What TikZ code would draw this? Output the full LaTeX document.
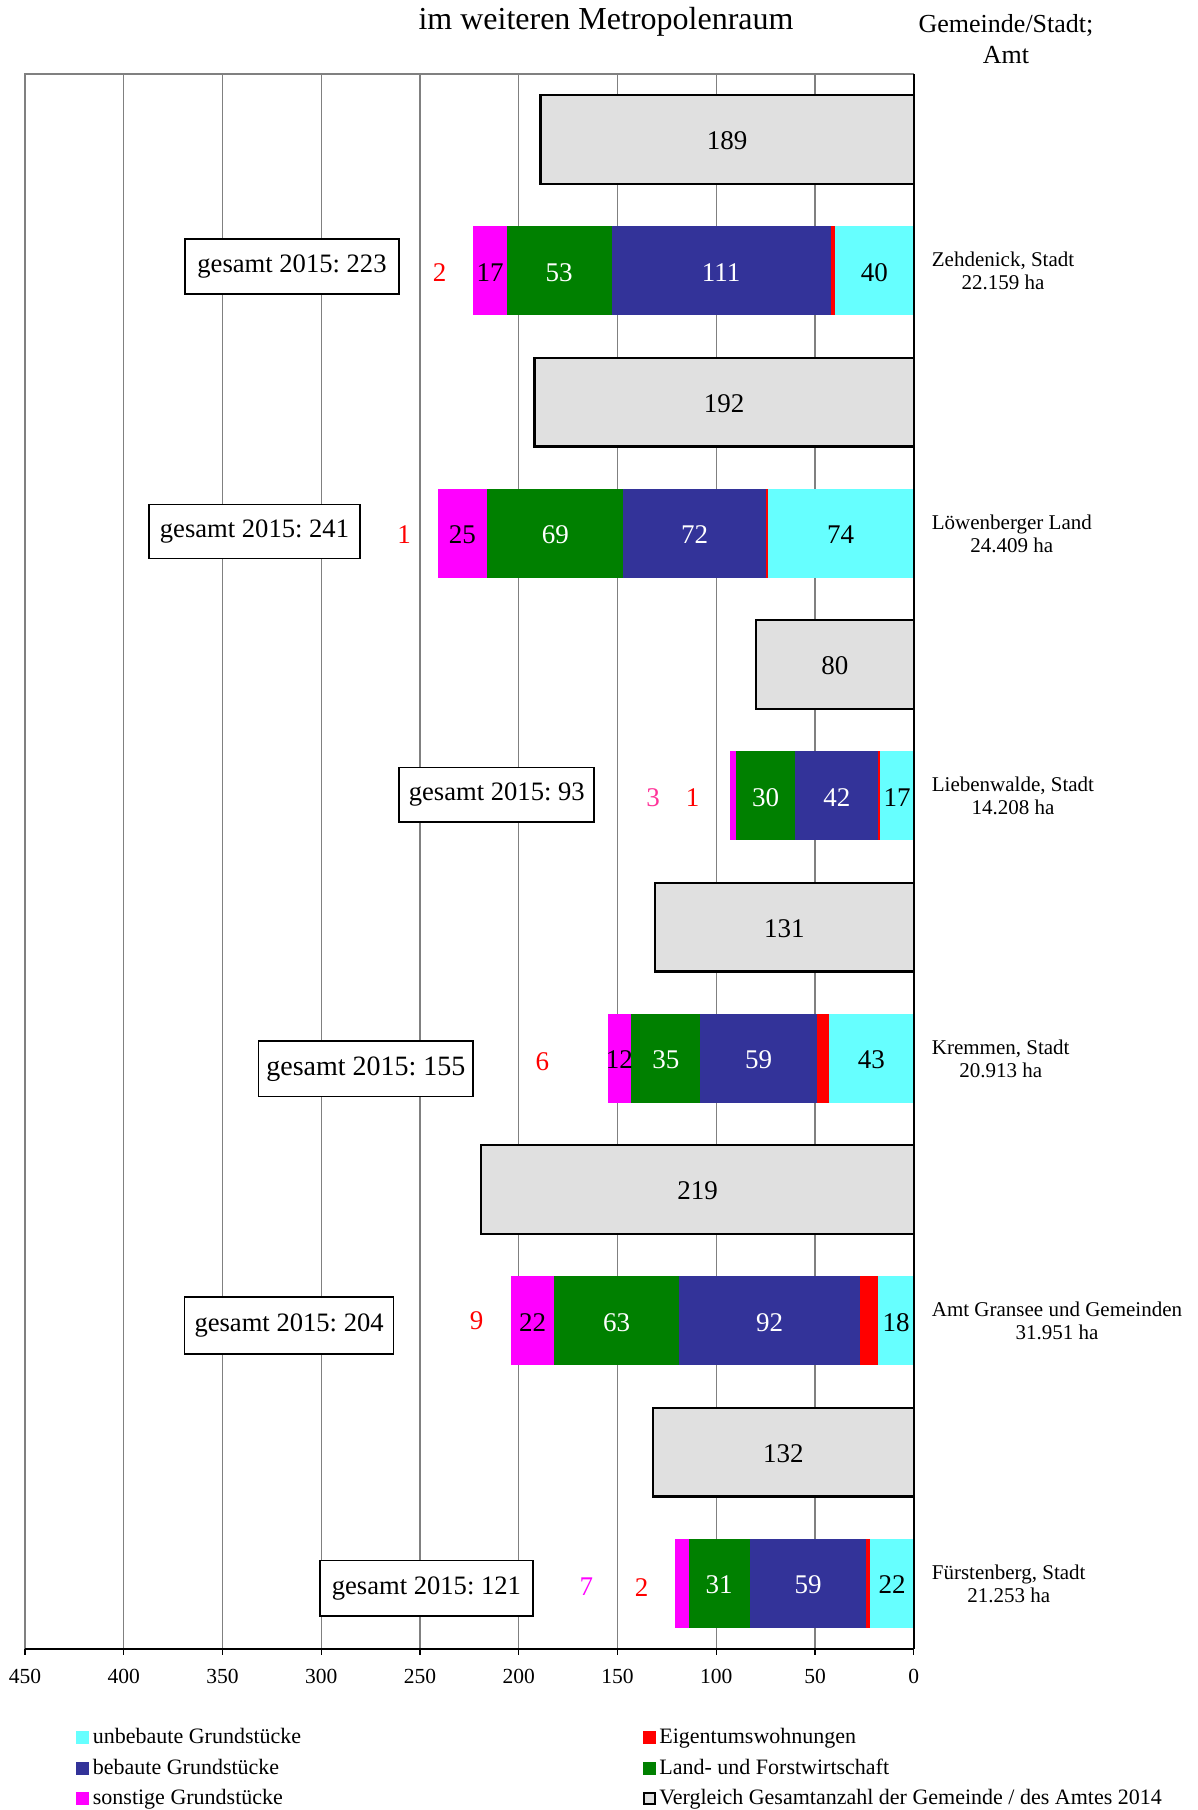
\documentclass[tikz,border=0pt]{standalone}
\usepackage{fontspec}
\setmainfont{Liberation Serif}
\frenchspacing
\definecolor{cCyan}{HTML}{66FFFF}
\definecolor{cRed}{HTML}{FF0000}
\definecolor{cBlue}{HTML}{333399}
\definecolor{cGreen}{HTML}{008000}
\definecolor{cMag}{HTML}{FF00FF}
\definecolor{cPink}{HTML}{FF3399}
\definecolor{cBox}{HTML}{E0E0E0}
\definecolor{cGrid}{HTML}{808080}
\newcommand\stackbar[6]{%
  \pgfmathsetmacro\yc{cy(#1)}%
  \pgfmathsetmacro\sa{#2}%
  \pgfmathsetmacro\sb{\sa+#3}%
  \pgfmathsetmacro\sc{\sb+#4}%
  \pgfmathsetmacro\sd{\sc+#5}%
  \pgfmathsetmacro\se{\sd+#6}%
  \fill[cCyan]  ({xv(0)},{\yc-44.45})   rectangle ({xv(\sa)},{\yc+44.45});
  \fill[cRed]   ({xv(\sa)},{\yc-44.45}) rectangle ({xv(\sb)},{\yc+44.45});
  \fill[cBlue]  ({xv(\sb)},{\yc-44.45}) rectangle ({xv(\sc)},{\yc+44.45});
  \fill[cGreen] ({xv(\sc)},{\yc-44.45}) rectangle ({xv(\sd)},{\yc+44.45});
  \fill[cMag]   ({xv(\sd)},{\yc-44.45}) rectangle ({xv(\se)},{\yc+44.45});
}
\begin{document}
\begin{tikzpicture}[x=0.5pt,y=-0.5pt,
  declare function={xv(\v)=913.8-1.9753*\v; cy(\k)=74+131.25*(\k+0.5);},
  lab/.style={font=\fontsize{13.5}{16}\selectfont, inner sep=0},
  wlab/.style={lab, text=white},
  oldbox/.style={draw=black, line width=1.15pt, fill=cBox},
  gbox/.style={draw=black, line width=0.85pt, fill=white, inner sep=0,
               font=\fontsize{13.3}{16}\selectfont},
  place/.style={anchor=west, align=center, inner sep=0,
                font=\fontsize{10.5}{11.5}\selectfont},
  tick/.style={font=\fontsize{10.75}{12}\selectfont, inner sep=0},
  leg/.style={anchor=base west, inner sep=0, font=\fontsize{11}{13}\selectfont},
  legsq/.style={minimum width=6.5pt, minimum height=6.5pt, inner sep=0}
]
\useasboundingbox (0,0) rectangle (1198,1810);

% titles
\node[font=\fontsize{16}{19}\selectfont, inner sep=0] (title) at (606,22) {im weiteren Metropolenraum};
\node[font=\fontsize{13}{15.5}\selectfont, align=center, inner sep=0] (hdr) at (1006,39) {Gemeinde/Stadt;\\Amt};

% grid
\foreach \v in {50,100,...,400}
  \draw[cGrid, line width=0.6pt] ({xv(\v)},74) -- ({xv(\v)},1649);
\draw[cGrid, line width=1.1pt] ({xv(0)},74) -- ({xv(450)},74) -- ({xv(450)},1649);

% 2014 boxes
\foreach \k/\v in {0/189,2/192,4/80,6/131,8/219,10/132}{
  \draw[oldbox] ({xv(0)},{cy(\k)-44.45}) rectangle ({xv(\v)},{cy(\k)+44.45});
  \node[lab] (old\k) at ({xv(\v/2)},{cy(\k)+1.5}) {\v};
}

% 2015 stacked bars: cyan, red, blue, green, magenta
\stackbar{1}{40}{2}{111}{53}{17}
\stackbar{3}{74}{1}{72}{69}{25}
\stackbar{5}{17}{1}{42}{30}{3}
\stackbar{7}{43}{6}{59}{35}{12}
\stackbar{9}{18}{9}{92}{63}{22}
\stackbar{11}{22}{2}{59}{31}{7}

% labels inside bars
\node[lab]  (zc) at ({xv(20)},{cy(1)+1.5}) {40};
\node[wlab] (zb) at ({xv(97.5)},{cy(1)+1.5}) {111};
\node[wlab] (zg) at ({xv(179.5)},{cy(1)+1.5}) {53};
\node[lab]  (zm) at ({xv(214.5)},{cy(1)+1.5}) {17};
\node[lab, text=cRed] (zr) at (439.7,{cy(1)+1.5}) {2};

\node[lab]  (lc) at ({xv(37)},{cy(3)+1.5}) {74};
\node[wlab] (lb) at ({xv(111)},{cy(3)+1.5}) {72};
\node[wlab] (lg) at ({xv(181.5)},{cy(3)+1.5}) {69};
\node[lab]  (lm) at ({xv(228.5)},{cy(3)+1.5}) {25};
\node[lab, text=cRed] (lr) at (404,{cy(3)+1.5}) {1};

\node[lab]  (bc) at ({xv(8.5)},{cy(5)+1.5}) {17};
\node[wlab] (bb) at ({xv(39)},{cy(5)+1.5}) {42};
\node[wlab] (bg) at ({xv(75)},{cy(5)+1.5}) {30};
\node[lab, text=cPink] (bm) at (653.2,{cy(5)+1.5}) {3};
\node[lab, text=cRed] (br) at (692.5,{cy(5)+1.5}) {1};

\node[lab]  (kc) at ({xv(21.5)},{cy(7)+1.5}) {43};
\node[wlab] (kb) at ({xv(78.5)},{cy(7)+1.5}) {59};
\node[wlab] (kg) at ({xv(125.5)},{cy(7)+1.5}) {35};
\node[lab]  (km) at ({xv(149)},{cy(7)+1.5}) {12};
\node[lab, text=cRed] (kr) at (542.4,{cy(7)+3.5}) {6};

\node[lab]  (gc) at ({xv(9)},{cy(9)+1.5}) {18};
\node[wlab] (gb) at ({xv(73)},{cy(9)+1.5}) {92};
\node[wlab] (gg) at ({xv(150.5)},{cy(9)+1.5}) {63};
\node[lab]  (gm) at ({xv(193)},{cy(9)+1.5}) {22};
\node[lab, text=cRed] (gr) at (476.6,{cy(9)}) {9};

\node[lab]  (fc) at ({xv(11)},{cy(11)+1.5}) {22};
\node[wlab] (fb) at ({xv(53.5)},{cy(11)+1.5}) {59};
\node[wlab] (fg) at ({xv(98.5)},{cy(11)+1.5}) {31};
\node[lab, text=cMag] (fm) at (586.3,{cy(11)+3}) {7};
\node[lab, text=cRed] (fr) at (641.7,{cy(11)+4}) {2};

% gesamt boxes
\node[gbox, minimum width=107.3pt, minimum height=27.7pt] (zt) at (292,266.6) {gesamt 2015: 223};
\node[gbox, minimum width=105.5pt, minimum height=27.1pt] (lt) at (254.5,531.5) {gesamt 2015: 241};
\node[gbox, minimum width=97.5pt, minimum height=27.1pt] (bt) at (496.8,794.6) {gesamt 2015: 93};
\node[gbox, minimum width=107.3pt, minimum height=27.7pt, font=\fontsize{14}{16}\selectfont] (kt) at (365.9,1068.7) {gesamt 2015: 155};
\node[gbox, minimum width=104.5pt, minimum height=28.2pt] (gt) at (289.1,1325.5) {gesamt 2015: 204};
\node[gbox, minimum width=106.7pt, minimum height=27.7pt] (ft) at (426.4,1588.1) {gesamt 2015: 121};

% place names
\node[place] (pz) at (931.5,{cy(1)}) {Zehdenick, Stadt\\22.159 ha};
\node[place] (pl) at (931.5,{cy(3)}) {Löwenberger Land\\24.409 ha};
\node[place] (pb) at (931.5,{cy(5)}) {Liebenwalde, Stadt\\14.208 ha};
\node[place] (pk) at (931.5,{cy(7)}) {Kremmen, Stadt\\20.913 ha};
\node[place] (pg) at (931.5,{cy(9)}) {Amt Gransee und Gemeinden\\31.951 ha};
\node[place] (pf) at (931.5,{cy(11)}) {Fürstenberg, Stadt\\21.253 ha};

% axes
\draw[black, line width=1pt] ({xv(0)},74) -- ({xv(0)},1649);
\draw[black, line width=1pt] ({xv(450)},1649) -- ({xv(0)},1649);
\foreach \v in {0,50,...,450}{
  \draw[black, line width=0.6pt] ({xv(\v)},1649) -- ({xv(\v)},1655);
  \node[tick] (t\v) at ({xv(\v)},1676) {\v};
}

% legend
\node[legsq, fill=cCyan] (s1) at (82.5,1737.5) {};
\node[leg] (l1) at (92.5,1743.5) {unbebaute Grundstücke};
\node[legsq, fill=cBlue] (s2) at (82.5,1768) {};
\node[leg] (l2) at (92.5,1774) {bebaute Grundstücke};
\node[legsq, fill=cMag] (s3) at (82.5,1798.5) {};
\node[leg] (l3) at (92.5,1804.5) {sonstige Grundstücke};
\node[legsq, fill=cRed] (s4) at (649.5,1737.5) {};
\node[leg] (l4) at (659,1743.5) {Eigentumswohnungen};
\node[legsq, fill=cGreen] (s5) at (649.5,1768) {};
\node[leg] (l5) at (659,1774) {Land- und Forstwirtschaft};
\node[legsq, fill=cBox, draw=black, line width=1pt, minimum width=5.5pt, minimum height=5.5pt] (s6) at (649.5,1798.5) {};
\node[leg] (l6) at (659,1804.5) {Vergleich Gesamtanzahl der Gemeinde / des Amtes 2014};
\end{tikzpicture}
\end{document}
